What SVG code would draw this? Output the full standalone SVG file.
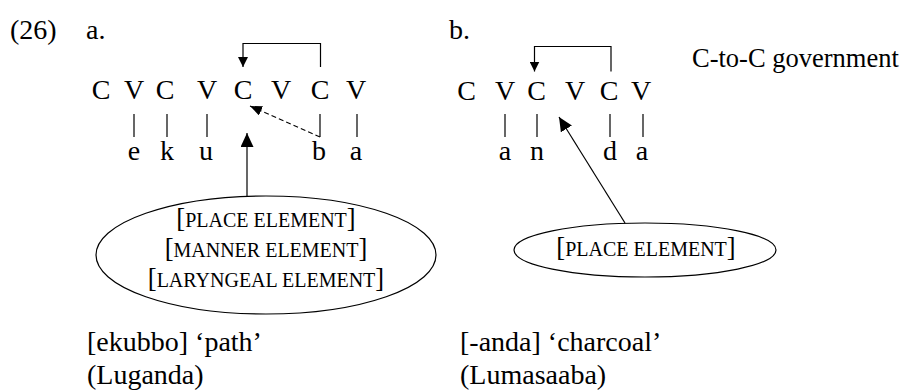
<svg xmlns="http://www.w3.org/2000/svg" width="904" height="391" viewBox="0 0 904 391">
<style>
text{font-family:"Liberation Serif","Times New Roman",serif;fill:#000}
.t{font-size:28px}
.seg{font-size:28px;text-anchor:middle}
.sc{font-size:20px;text-anchor:middle}
.br{font-size:26.5px}
.ln{stroke:#000;stroke-width:1.2;fill:none}
.dash{stroke:#000;stroke-width:1.1;fill:none;stroke-dasharray:5 3}
.ell{stroke:#000;stroke-width:1.2;fill:none}
</style>
<defs>
<marker id="ah" markerUnits="userSpaceOnUse" markerWidth="10" markerHeight="10" refX="10" refY="5" orient="auto"><path d="M0,0 L10,5 L0,10 z" fill="#000"/></marker>
<marker id="ahd" markerUnits="userSpaceOnUse" markerWidth="12" markerHeight="10" refX="12" refY="5" orient="auto"><path d="M0,0 L12,5 L0,10 z" fill="#000"/></marker>
<marker id="ahb" markerUnits="userSpaceOnUse" markerWidth="14" markerHeight="13" refX="14" refY="6.5" orient="auto"><path d="M0,0 L14,6.5 L0,13 z" fill="#000"/></marker>
</defs>

<g id="header">
<text class="t" x="10" y="38.5">(26)</text>
<text class="t" x="86" y="38.5">a.</text>
<text class="t" x="449" y="38.5">b.</text>
<text class="t" x="692" y="67" style="font-size:26.5px">C-to-C government</text>
</g>

<g id="skeleton-a">
<text class="seg" x="101" y="99">C</text>
<text class="seg" x="134" y="99">V</text>
<text class="seg" x="165" y="99">C</text>
<text class="seg" x="207" y="99">V</text>
<text class="seg" x="243" y="99">C</text>
<text class="seg" x="281" y="99">V</text>
<text class="seg" x="320" y="99">C</text>
<text class="seg" x="356" y="99">V</text>
</g>
<g id="melody-a">
<text class="seg" x="134" y="160">e</text>
<text class="seg" x="167" y="160">k</text>
<text class="seg" x="206" y="160">u</text>
<text class="seg" x="319" y="160">b</text>
<text class="seg" x="356" y="160">a</text>
</g>
<g id="elements-a">
<ellipse class="ell" cx="266" cy="255" rx="170" ry="59"/>
<text class="sc" x="266" y="226.5"><tspan class="br">[</tspan>PLACE ELEMENT<tspan class="br">]</tspan></text>
<text class="sc" x="266" y="256.5"><tspan class="br">[</tspan>MANNER ELEMENT<tspan class="br">]</tspan></text>
<text class="sc" x="266" y="286.5"><tspan class="br">[</tspan>LARYNGEAL ELEMENT<tspan class="br">]</tspan></text>
</g>
<g id="gloss-a">
<text class="t" x="87" y="351">[ekubbo] ‘path’</text>
<text class="t" x="87" y="384">(Luganda)</text>
</g>

<g id="skeleton-b">
<text class="seg" x="466.5" y="100">C</text>
<text class="seg" x="505" y="100">V</text>
<text class="seg" x="536.5" y="100">C</text>
<text class="seg" x="575" y="100">V</text>
<text class="seg" x="609" y="100">C</text>
<text class="seg" x="641" y="100">V</text>
</g>
<g id="melody-b">
<text class="seg" x="505" y="160">a</text>
<text class="seg" x="537" y="160">n</text>
<text class="seg" x="610" y="160">d</text>
<text class="seg" x="642" y="160">a</text>
</g>
<g id="elements-b">
<ellipse class="ell" cx="645" cy="250" rx="131" ry="27"/>
<text class="sc" x="646" y="256"><tspan class="br">[</tspan>PLACE ELEMENT<tspan class="br">]</tspan></text>
</g>
<g id="gloss-b">
<text class="t" x="460" y="351">[-anda] ‘charcoal’</text>
<text class="t" x="460" y="384">(Lumasaaba)</text>
</g>

<g id="connectors">
<path class="ln" d="M320.5,67 V43.5 H243 V67" marker-end="url(#ah)"/>
<line class="ln" x1="134" y1="114" x2="134" y2="137"/>
<line class="ln" x1="167" y1="114" x2="167" y2="137"/>
<line class="ln" x1="207" y1="114" x2="207" y2="137"/>
<line class="ln" x1="320" y1="114" x2="320" y2="137"/>
<line class="ln" x1="357" y1="114" x2="357" y2="137"/>
<line class="dash" x1="320" y1="137" x2="250" y2="106" marker-end="url(#ahd)"/>
<line class="ln" x1="247" y1="196" x2="247" y2="133" marker-end="url(#ahb)"/>

<path class="ln" d="M611,71.5 V46.5 H534.5 V71.5" marker-end="url(#ah)"/>
<line class="ln" x1="505" y1="114" x2="505" y2="137"/>
<line class="ln" x1="537" y1="114" x2="537" y2="137"/>
<line class="ln" x1="610" y1="114" x2="610" y2="137"/>
<line class="ln" x1="643" y1="114" x2="643" y2="137"/>
<line class="ln" x1="625" y1="223" x2="559" y2="117" marker-end="url(#ahb)"/>
</g>
</svg>
